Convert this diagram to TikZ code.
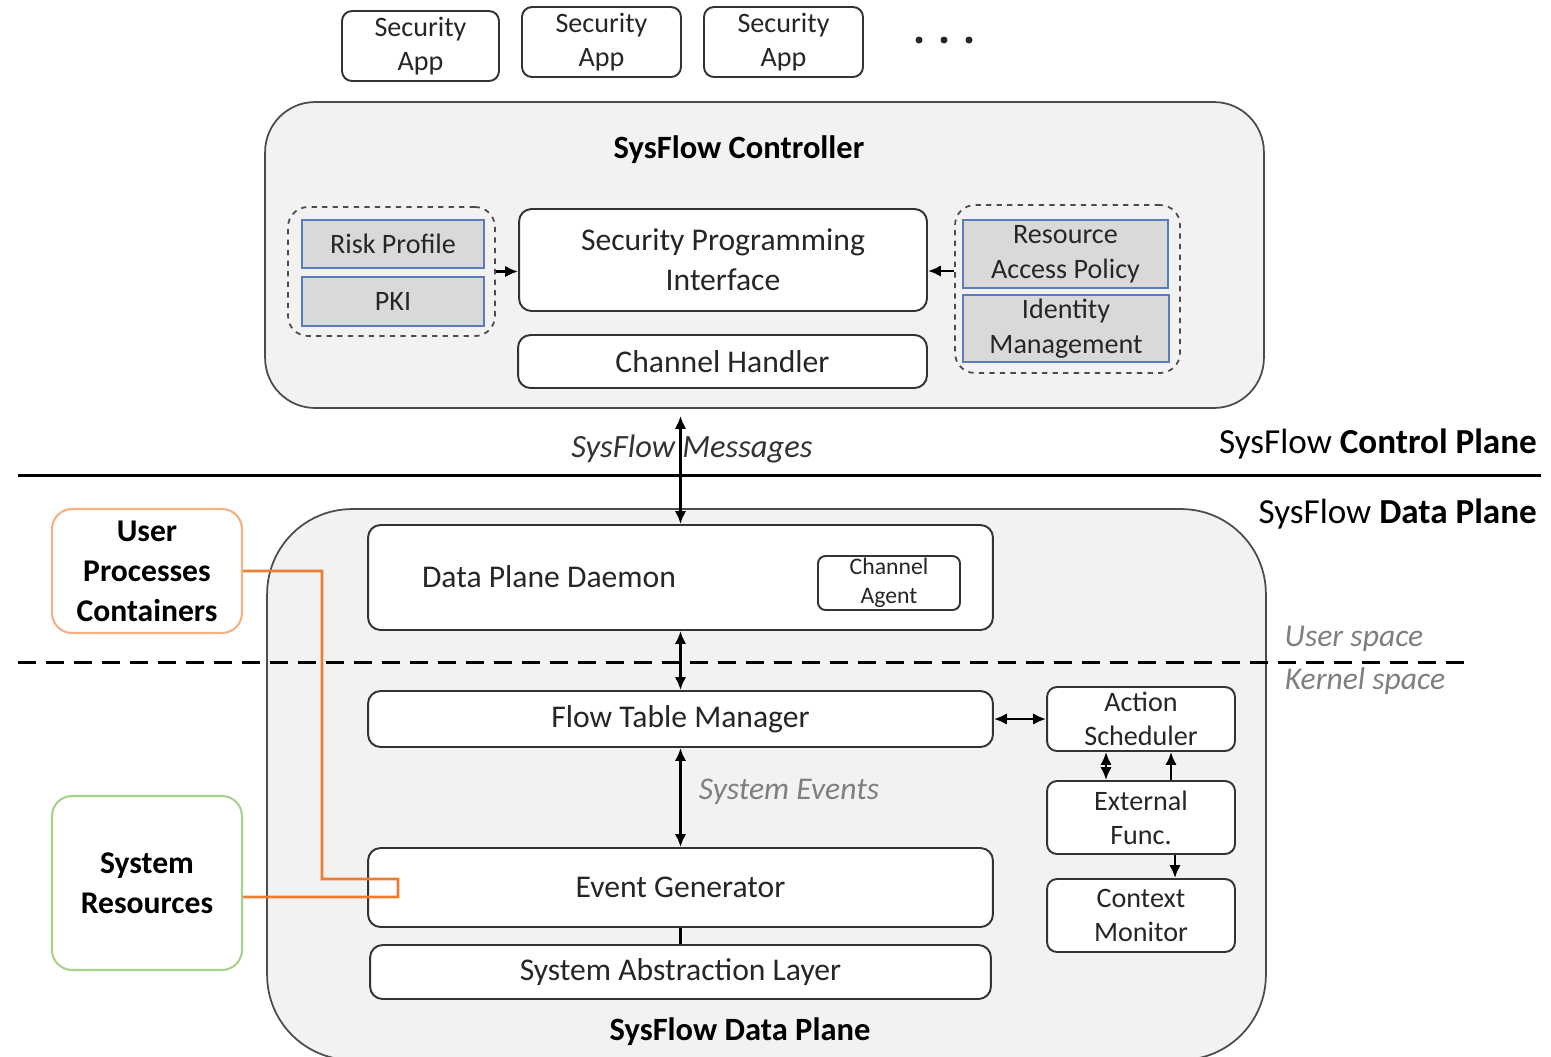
\documentclass[tikz,border=0pt]{standalone}
\usepackage{fontspec}
\setmainfont{Carlito}
\usepackage{xcolor}
\usetikzlibrary{arrows.meta,calc}

\definecolor{planefill}{HTML}{F2F2F2}
\definecolor{grpfill}{HTML}{D9D9D9}
\definecolor{grpblue}{HTML}{5B7BBF}
\definecolor{procorange}{HTML}{F4B183}
\definecolor{linkorange}{HTML}{ED7D31}
\definecolor{resgreen}{HTML}{A9D18E}
\definecolor{txtgray}{HTML}{7F7F7F}

\tikzset{
	plane/.style={draw=black!70, fill=planefill, line width=1pt},
	blk/.style={draw=black!80, fill=white, rounded corners=0.25cm, line width=1.1pt, align=center, inner sep=0pt, text=black!85, font=\fontsize{18}{22.7}\selectfont},
	app/.style={blk, rounded corners=0.2cm, font=\fontsize{16}{19.8}\selectfont},
	grp/.style={draw=black!70, dashed, rounded corners=0.4cm, line width=1pt},
	info/.style={draw=grpblue, fill=grpfill, line width=1pt, align=center, inner sep=0pt, text=black!85, font=\fontsize{16}{19.8}\selectfont},
	side/.style={fill=white, rounded corners=0.4cm, line width=1.2pt, align=center, inner sep=0pt, font=\bfseries\fontsize{18}{22.7}\selectfont},
	title/.style={font=\bfseries\fontsize{18.5}{22}\selectfont},
	txt/.style={text=black!85, font=\fontsize{18}{22}\selectfont},
	spacelbl/.style={text=txtgray, font=\itshape\fontsize{18}{22}\selectfont},
	lnk/.style={line width=1.5pt, >={Latex[length=2.6mm,width=2.3mm]}},
}

\begin{document}
\begin{tikzpicture}[x=0.02cm, y=-0.02cm]
	\useasboundingbox (0,0) rectangle (1551,1056);

	% security apps
	\node[app, minimum width=3.14cm, minimum height=1.4cm] (app1) at (420.5,46) {Security\\App};
	\node[app, minimum width=3.18cm, minimum height=1.4cm] (app2) at (601.5,42) {Security\\App};
	\node[app, minimum width=3.18cm, minimum height=1.4cm] (app3) at (783.5,42) {Security\\App};
	\foreach \dx in {919,944,969}
		\fill[black!85] (\dx,40) circle (0.07cm);

	% controller
	\node[plane, rounded corners=1cm, minimum width=19.98cm, minimum height=6.12cm] (ctrl) at (764.5,255) {};
	\node[title] (ctrltitle) at (739,150) {SysFlow Controller};

	\node[grp, minimum width=4.14cm, minimum height=2.58cm] (lgrp) at (391.5,271.5) {};
	\node[info, minimum width=3.64cm, minimum height=0.96cm] (risk) at (393,244) {Risk Profile};
	\node[info, minimum width=3.64cm, minimum height=0.98cm] (pki) at (393,301.5) {PKI};

	\node[blk, minimum width=8.16cm, minimum height=2.04cm] (spi) at (723,260) {Security Programming\\Interface};
	\node[blk, minimum width=8.18cm, minimum height=1.06cm] (chh) at (722.5,361.5) {Channel Handler};

	\node[grp, minimum width=4.5cm, minimum height=3.36cm] (rgrp) at (1067.5,289) {};
	\node[info, minimum width=4.1cm, minimum height=1.36cm] (rap) at (1065.5,254) {Resource\\Access Policy};
	\node[info, minimum width=4.12cm, minimum height=1.34cm] (idm) at (1066,328.5) {Identity\\Management};

	\draw[lnk,->] (lgrp.east) -- (lgrp.east -| spi.west);
	\draw[lnk,->] ([yshift=0.36cm]rgrp.west) -- ([yshift=0.36cm]rgrp.west -| spi.east);

	% plane borders
	\draw[line width=1.7pt] (18,475) -- (1541,475);

	% data plane
	\node[plane, rounded corners=1.7cm, minimum width=19.98cm, minimum height=11.02cm] (dp) at (766.5,784.5) {};
	\node[title] (dptitle) at (740,1032) {SysFlow Data Plane};

	\node[anchor=east, txt, text=black, font=\fontsize{20}{24}\selectfont] (cplabel) at (1543,444) {SysFlow \textbf{Control Plane}};
	\node[anchor=east, txt, text=black, font=\fontsize{20}{24}\selectfont] (dplabel) at (1543,514) {SysFlow \textbf{Data Plane}};

	\node[blk, minimum width=12.5cm, minimum height=2.1cm] (dpd) at (680.5,577.5) {};
	\node[txt] (dpdtext) at (549,577) {Data Plane Daemon};
	\node[blk, rounded corners=0.15cm, font=\fontsize{13.5}{16.4}\selectfont, minimum width=2.84cm, minimum height=1.08cm] (cha) at (889,583) {Channel\\Agent};

	\draw[line width=1.7pt, dash pattern=on 0.36cm off 0.2cm] (18,662) -- (1470,662);
	\node[spacelbl] (usr) at (1354,639) {User space};
	\node[spacelbl] (krn) at (1365,681) {Kernel space};

	\node[blk, minimum width=12.5cm, minimum height=1.12cm] (ftm) at (680.5,719) {Flow Table Manager};
	\node[blk, rounded corners=0.2cm, font=\fontsize{16}{19.3}\selectfont, minimum width=3.76cm, minimum height=1.28cm] (as) at (1141,719) {Action\\Scheduler};
	\node[blk, rounded corners=0.2cm, font=\fontsize{16}{19.3}\selectfont, minimum width=3.76cm, minimum height=1.46cm] (ef) at (1141,817.5) {External\\Func.};
	\node[blk, rounded corners=0.2cm, font=\fontsize{16}{19.3}\selectfont, minimum width=3.76cm, minimum height=1.46cm] (cm) at (1141,915.5) {Context\\Monitor};
	\node[blk, minimum width=12.5cm, minimum height=1.58cm] (eg) at (680.5,887.5) {Event Generator};
	\node[blk, minimum width=12.42cm, minimum height=1.08cm] (sal) at (680.5,972) {System Abstraction Layer};

	\node[txt, font=\itshape\fontsize{18.5}{22}\selectfont, text=black!80] (msg) at (692,449) {SysFlow Messages};
	\node[spacelbl] (sysev) at (789,792) {System Events};

	\draw[lnk,<->] ([yshift=-0.14cm]ctrl.south -| dpd.north) -- (dpd.north);
	\draw[lnk,<->] (dpd.south) -- (ftm.north);
	\draw[lnk,<->] (ftm.south) -- (eg.north);
	\draw[lnk] (eg.south) -- (sal.north);
	\draw[lnk,<->] (ftm.east) -- (as.west);
	\draw[lnk,<->] ([xshift=-0.7cm]as.south) -- ([xshift=-0.7cm]ef.north);
	\draw[lnk,->] ([xshift=0.6cm]ef.north) -- ([xshift=0.6cm]as.south);
	\draw[lnk,->] ([xshift=0.68cm]ef.south) -- ([xshift=0.68cm]cm.north);

	% outside sources
	\node[side, draw=procorange, minimum width=3.8cm, minimum height=2.48cm] (upc) at (147,571) {User\\Processes\\Containers};
	\node[side, draw=resgreen, minimum width=3.8cm, minimum height=3.48cm] (sr) at (147,883) {System\\Resources};
	\draw[linkorange, line width=1.6pt] (upc.east) -- ++(79,0) |- (398,879) -- (398,897) -- ([yshift=-0.28cm]sr.east);
\end{tikzpicture}
\end{document}
